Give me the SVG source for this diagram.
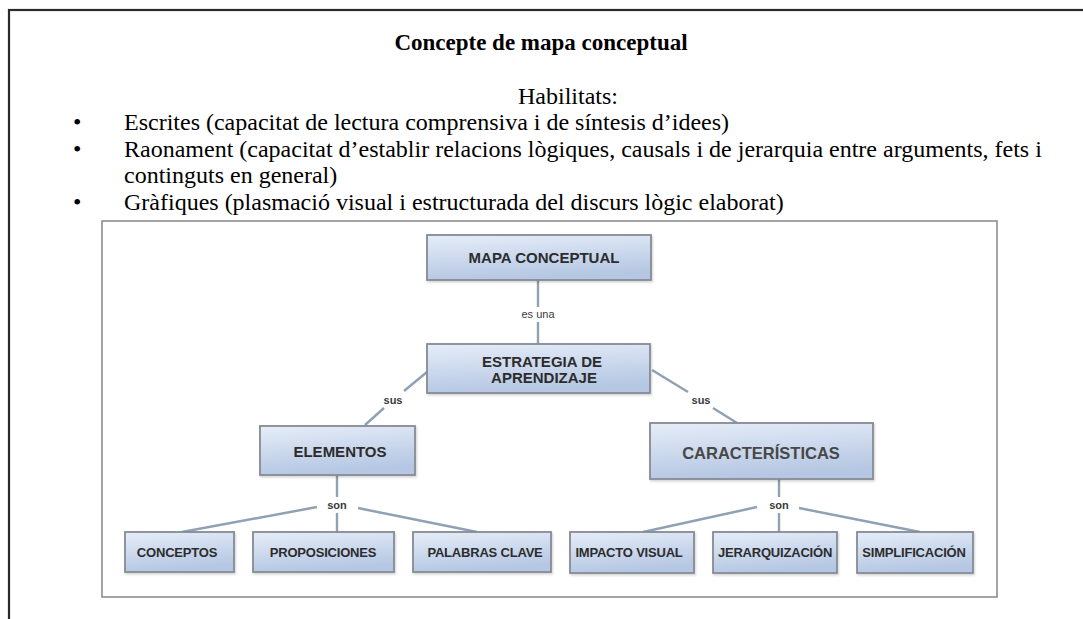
<svg xmlns="http://www.w3.org/2000/svg" width="1083" height="619" viewBox="0 0 1083 619">
<defs>
<linearGradient id="nodeGrad" x1="0" y1="0" x2="0.25" y2="1">
<stop offset="0" stop-color="#e6edf8"/>
<stop offset="1" stop-color="#b5c7e3"/>
</linearGradient>
<filter id="sh" x="-5%" y="-5%" width="115%" height="130%">
<feDropShadow dx="1" dy="1.5" stdDeviation="1" flood-color="#000" flood-opacity="0.18"/>
</filter>
</defs>
<style>
.head{font-family:"Liberation Serif","Times New Roman",serif;fill:#000;}
.title{font-size:23px;font-weight:bold;}
.body{font-size:24px;}
.node rect{fill:url(#nodeGrad);stroke:#858b94;stroke-width:1.8;filter:url(#sh);}
.node text{font-family:"Liberation Sans",Arial,sans-serif;font-weight:bold;fill:#2c2c2c;text-anchor:middle;}
.big{font-size:15px;}
.small{font-size:13px;letter-spacing:-0.2px;}
.conn line{stroke:#8fa1b3;stroke-width:2.4;}
.lbl{font-family:"Liberation Sans",Arial,sans-serif;font-size:11px;fill:#3a3a3a;text-anchor:middle;}
</style>
<rect x="9" y="10" width="1100" height="700" fill="#fff" stroke="#2a2a2a" stroke-width="2.2"/>
<g id="header">
<text class="head title" x="541" y="50" text-anchor="middle">Concepte de mapa conceptual</text>
<text class="head body" x="568" y="104" text-anchor="middle">Habilitats:</text>
<text class="head body" x="73" y="130">•</text>
<text class="head body" x="124" y="130">Escrites (capacitat de lectura comprensiva i de síntesis d’idees)</text>
<text class="head body" x="73" y="157">•</text>
<text class="head body" x="124" y="157">Raonament (capacitat d’establir relacions lògiques, causals i de jerarquia entre arguments, fets i</text>
<text class="head body" x="124" y="183">continguts en general)</text>
<text class="head body" x="73" y="210">•</text>
<text class="head body" x="124" y="210">Gràfiques (plasmació visual i estructurada del discurs lògic elaborat)</text>
</g>
<rect id="frame" x="102" y="221" width="895" height="376" fill="#fff" stroke="#8e8e8e" stroke-width="1.6"/>
<g id="connectors" class="conn">
<line x1="538" y1="280" x2="538" y2="307"/>
<line x1="538" y1="322" x2="538" y2="344"/>
<line x1="427" y1="372" x2="404" y2="391"/>
<line x1="384" y1="408" x2="365" y2="425"/>
<line x1="652" y1="370" x2="688" y2="392"/>
<line x1="713" y1="408" x2="737" y2="423"/>
<line x1="337" y1="475" x2="337" y2="497"/>
<line x1="337" y1="513" x2="337" y2="532"/>
<line x1="317" y1="507" x2="182" y2="532"/>
<line x1="358" y1="508" x2="477" y2="532"/>
<line x1="779" y1="479" x2="779" y2="497"/>
<line x1="779" y1="513" x2="779" y2="532"/>
<line x1="757" y1="507" x2="643" y2="532"/>
<line x1="799" y1="508" x2="920" y2="532"/>
<text class="lbl" x="538" y="318">es una</text>
<text class="lbl" x="393" y="404" font-weight="bold">sus</text>
<text class="lbl" x="701" y="404" font-weight="bold">sus</text>
<text class="lbl" x="337" y="509" font-weight="bold">son</text>
<text class="lbl" x="779" y="509" font-weight="bold">son</text>
</g>
<g id="n-mapa" class="node"><rect x="427" y="235" width="224" height="45"/><text class="big" x="544" y="263">MAPA CONCEPTUAL</text></g>
<g id="n-estrategia" class="node"><rect x="427" y="344" width="223" height="49"/><text class="big" x="542" y="367">ESTRATEGIA DE</text><text class="big" x="544" y="383">APRENDIZAJE</text></g>
<g id="n-elementos" class="node"><rect x="260" y="426" width="155" height="49"/><text class="big" x="340" y="457" font-size="15.5">ELEMENTOS</text></g>
<g id="n-caracteristicas" class="node"><rect x="650" y="423" width="223" height="56"/><text x="761" y="459" font-size="16.5" style="fill:#474747">CARACTERÍSTICAS</text></g>
<g id="n-conceptos" class="node"><rect x="125" y="532" width="109" height="40"/><text class="small" x="177" y="557">CONCEPTOS</text></g>
<g id="n-proposiciones" class="node"><rect x="253" y="532" width="141" height="40"/><text class="small" x="323" y="557">PROPOSICIONES</text></g>
<g id="n-palabras" class="node"><rect x="413" y="532" width="138" height="40"/><text class="small" x="485" y="557">PALABRAS CLAVE</text></g>
<g id="n-impacto" class="node"><rect x="570" y="532" width="124" height="41"/><text class="small" x="629" y="557">IMPACTO VISUAL</text></g>
<g id="n-jerarquizacion" class="node"><rect x="713" y="532" width="124" height="41"/><text class="small" x="775" y="557">JERARQUIZACIÓN</text></g>
<g id="n-simplificacion" class="node"><rect x="857" y="532" width="116" height="41"/><text class="small" x="914" y="557">SIMPLIFICACIÓN</text></g>
</svg>
